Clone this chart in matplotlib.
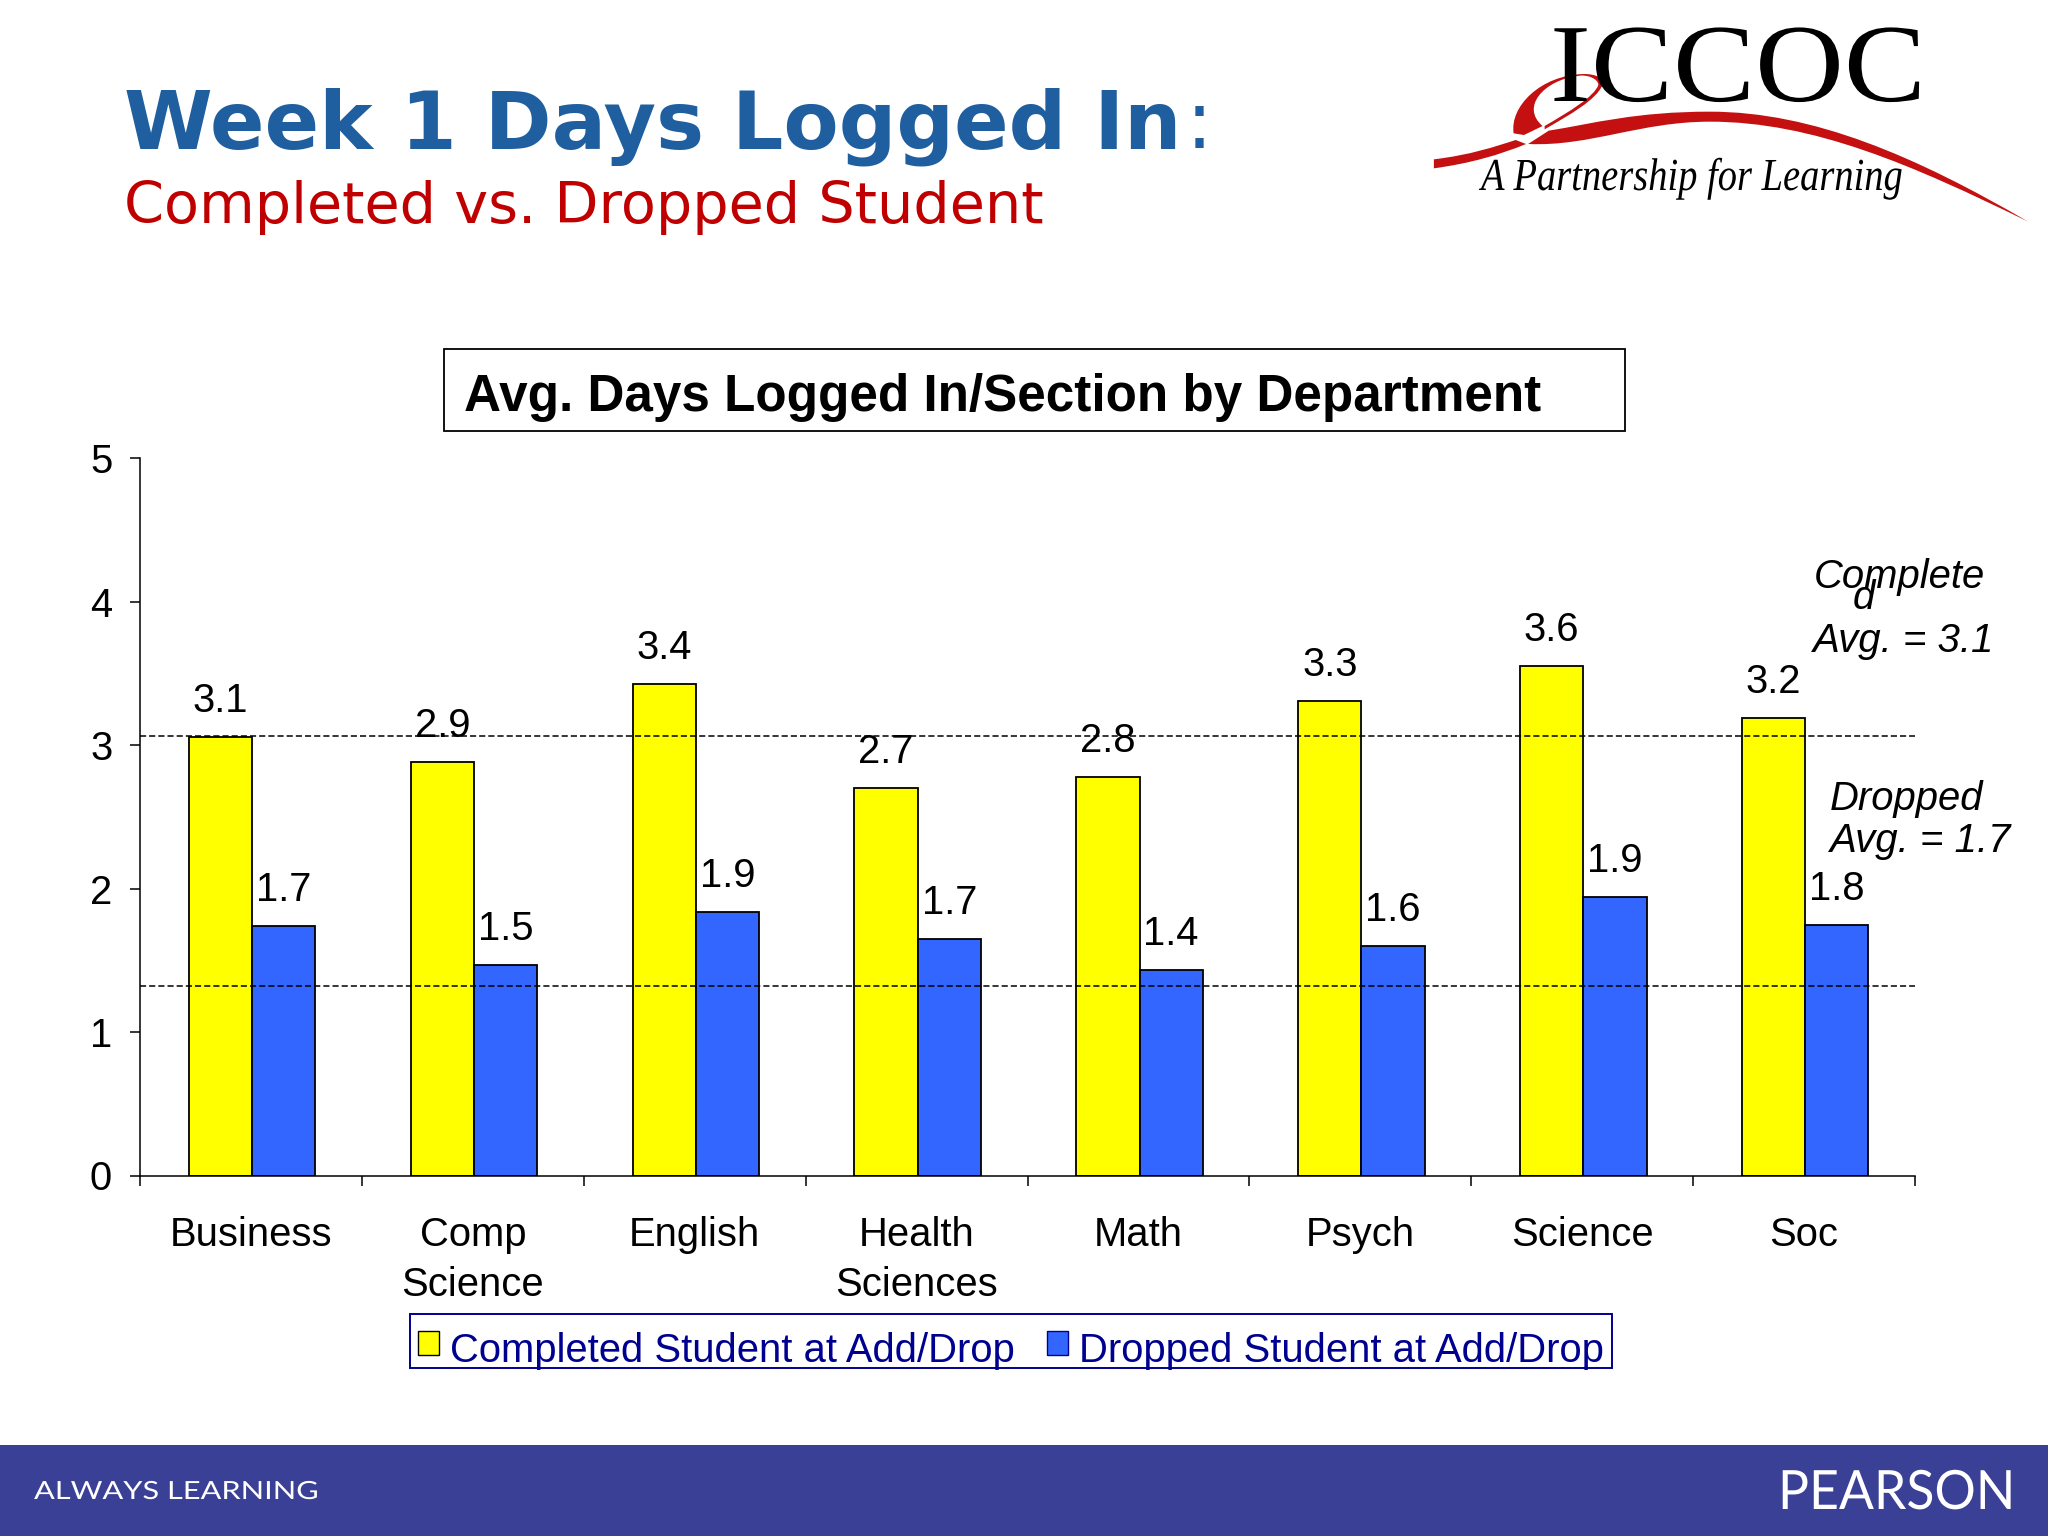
import matplotlib
matplotlib.use("Agg")
import matplotlib.pyplot as plt
import matplotlib.patheffects as pe
import numpy as np
from matplotlib.patches import Patch, PathPatch, Rectangle
from matplotlib.path import Path
from matplotlib.transforms import Affine2D

departments = ["Business", "Comp\nScience", "English", "Health\nSciences", "Math", "Psych", "Science", "Soc"]
completed = [3.06, 2.88, 3.43, 2.70, 2.78, 3.31, 3.55, 3.19]
dropped = [1.74, 1.47, 1.84, 1.65, 1.43, 1.60, 1.94, 1.75]
completed_labels = ["3.1", "2.9", "3.4", "2.7", "2.8", "3.3", "3.6", "3.2"]
dropped_labels = ["1.7", "1.5", "1.9", "1.7", "1.4", "1.6", "1.9", "1.8"]
avg_lines = [3.065, 1.32]

W, H = 2048, 1536
SANS = "Liberation Sans"
NAVY = "#000090"


class StretchX(pe.AbstractPathEffect):
    # widen or narrow a text from its left edge, fonts here don't match exactly
    def __init__(self, factor):
        super().__init__()
        self.factor = factor

    def draw_path(self, renderer, gc, tpath, affine, rgbFace=None):
        x0 = affine.transform((0, 0))[0]
        stretch = Affine2D().translate(-x0, 0).scale(self.factor, 1).translate(x0, 0)
        renderer.draw_path(gc, tpath, affine + stretch, rgbFace)


def logo_path(segments):
    # logo outline, given in reference crop coords
    verts, codes = [], []
    for code, pts in segments:
        for x, y in pts:
            verts.append((1400 + x / 2.42, y / 3))
            codes.append(code)
    verts.append(verts[0])
    codes.append(Path.CLOSEPOLY)
    return Path(verts, codes)


fig = plt.figure(figsize=(W / 100, H / 100), dpi=100, facecolor="white")
ax = fig.add_axes([140 / W, 1 - 1175.5 / H, (1915 - 140) / W, (1175.5 - 458.4) / H])

# === Bars ===
x = np.arange(len(departments)) + 0.505
bar_w = 0.285
ax.bar(x - bar_w / 2, completed, bar_w, color="#FFFF00", edgecolor="black", linewidth=1.3)
ax.bar(x + bar_w / 2, dropped, bar_w, color="#3366FF", edgecolor="black", linewidth=1.3)

for xi, val, lab in zip(x - bar_w / 2, completed, completed_labels):
    ax.annotate(lab, (xi, val), xytext=(0, 18), textcoords="offset points", ha="center",
                va="baseline", fontsize=28.8, family=SANS, color="black")
for xi, val, lab in zip(x + bar_w / 2, dropped, dropped_labels):
    ax.annotate(lab, (xi, val), xytext=(0, 18), textcoords="offset points", ha="center",
                va="baseline", fontsize=28.8, family=SANS, color="black")

for val in avg_lines:
    ax.axhline(val, color="black", linewidth=1.1, linestyle=(0, (4, 2)), zorder=5)

# === Axes ===
ax.set_xlim(0, len(departments))
ax.set_ylim(0, 5)
ax.spines["top"].set_visible(False)
ax.spines["right"].set_visible(False)
ax.spines["left"].set_linewidth(1.1)
ax.spines["bottom"].set_linewidth(1.1)
ax.set_yticks(range(6))
ax.set_xticks(range(len(departments) + 1))
ax.set_xticklabels([])
ax.set_xticks(np.arange(len(departments)) + 0.5, departments, minor=True)
ax.tick_params(axis="x", which="major", length=7, width=1.1)
ax.tick_params(axis="x", which="minor", length=0, pad=29, labelsize=28.8)
ax.tick_params(axis="y", length=7, width=1.1, pad=13, labelsize=28.8)
for lab in ax.get_xticklabels(minor=True) + ax.get_yticklabels():
    lab.set_family(SANS)
    lab.set_linespacing(1.42)

handles = [
    Patch(facecolor="#FFFF00", edgecolor="black", label="Completed Student at Add/Drop"),
    Patch(facecolor="#3366FF", edgecolor="#000090", label="Dropped Student at Add/Drop"),
]
leg = fig.legend(handles=handles, ncols=2, loc="center", bbox_to_anchor=(1011 / W, 1 - 1341 / H),
                 prop={"family": SANS, "size": 28.8}, labelcolor=NAVY, frameon=True, fancybox=False,
                 edgecolor=NAVY, framealpha=1, handlelength=0.53, handleheight=0.53,
                 handletextpad=0.28, columnspacing=0.8, borderpad=0.2, borderaxespad=0)
leg.get_frame().set_linewidth(1.4)
# legend text sits low in its box in the original
for t in leg.get_texts():
    t.set_position((0, -10))
for h in leg.legend_handles:
    h.set_y(h.get_y() - 3.8)

# === Slide furniture, drawn in pixel coords ===
deco = fig.add_axes([0, 0, 1, 1], zorder=10)
deco.set_xlim(0, W)
deco.set_ylim(H, 0)
deco.set_axis_off()
deco.patch.set_alpha(0)

deco.text(124, 148, "Week 1 Days Logged In", family="DejaVu Sans", weight="bold", fontsize=58, color="#1F5FA0")
deco.text(1186, 148, ":", family="DejaVu Sans", fontsize=57.7, color="#1F5FA0")
deco.text(124, 223, "Completed vs. Dropped Student", family="DejaVu Sans", fontsize=41.2, color="#C00000")

deco.add_patch(Rectangle((444, 349), 1181, 82, facecolor="white", edgecolor="black", linewidth=1.3))
deco.text(464, 411, "Avg. Days Logged In/Section by Department", family=SANS, weight="bold", fontsize=36.95, color="black")

deco.text(1814, 588, "Complete", family=SANS, style="italic", fontsize=28.8, color="black")
deco.text(1853, 609, "d", family=SANS, style="italic", fontsize=28.8, color="black")
deco.text(1813, 652, "Avg. = 3.1", family=SANS, style="italic", fontsize=29, color="black")
deco.text(1830, 810, "Dropped", family=SANS, style="italic", fontsize=28.8, color="black")
deco.text(1830, 852, "Avg. = 1.7", family=SANS, style="italic", fontsize=29, color="black")

# logo
RIBBON = "#C41010"
M, C, L = Path.MOVETO, Path.CURVE4, Path.LINETO
ribbon_main = [
    (M, [(310, 432)]), (L, [(360, 392)]),
    (C, [(470, 370), (570, 335), (750, 335)]),
    (C, [(1000, 335), (1250, 470), (1520, 665)]),
    (C, [(1240, 495), (1000, 365), (750, 365)]),
    (C, [(580, 365), (460, 440), (310, 432)]),
]
ribbon_left = [
    (M, [(82, 478)]),
    (C, [(170, 465), (230, 440), (280, 420)]),
    (L, [(305, 432)]),
    (C, [(240, 465), (170, 490), (82, 505)]),
]
ribbon_loop = [
    (M, [(275, 400)]),
    (C, [(265, 320), (340, 225), (445, 222)]),
    (C, [(475, 222), (495, 235), (490, 255)]),
    (C, [(475, 300), (410, 345), (350, 388)]),
    (L, [(350, 378)]),
    (C, [(410, 335), (470, 290), (480, 255)]),
    (C, [(480, 235), (450, 222), (430, 228)]),
    (C, [(350, 240), (290, 320), (345, 378)]),
    (L, [(300, 405)]),
]
for seg in [ribbon_main, ribbon_left, ribbon_loop]:
    deco.add_patch(PathPatch(logo_path(seg), facecolor=RIBBON, edgecolor="none"))
deco.text(1550, 101, "ICCOC", family="Liberation Serif", fontsize=80, color="black",
          path_effects=[StretchX(1.107)])
deco.text(1481, 190, "A Partnership for Learning", family="Liberation Serif", style="italic",
          fontsize=33, color="black", path_effects=[StretchX(0.84)])

# footer
deco.add_patch(Rectangle((0, 1445), W, H - 1445, facecolor="#3A4095", edgecolor="none"))
deco.text(34, 1499, "ALWAYS LEARNING", family="Lato", fontsize=18, color="white", path_effects=[StretchX(1.23)])
deco.text(1778, 1509, "PEARSON", family="Lato", fontsize=39, color="white", path_effects=[StretchX(0.955)])

fig.savefig("out.png", dpi=100)
